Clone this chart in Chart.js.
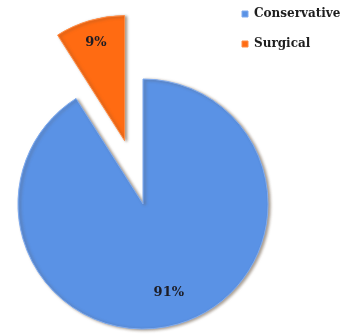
<!DOCTYPE html>
<html>
<head>
<meta charset="utf-8">
<script src="https://cdn.jsdelivr.net/npm/chart.js@4"></script>
<style>
  html, body { margin: 0; padding: 0; background: #fff; overflow: hidden; }
  body { width: 346px; height: 335px; position: relative; }
  #wrap { position: absolute; left: 0; top: -10px; width: 346px; height: 428px; }
</style>
</head>
<body>
<div id="wrap"><canvas id="pieChart"></canvas></div>
<script>
// Treatment split
const categories = ['Conservative', 'Surgical'];
const shares = [91, 9];
const sliceColors = ['#5A92E5', '#FF6B12'];
const edgeColors = ['#80ABEE', '#FF8C45'];
// how far each slice is pulled out of the pie, px
const explode = [0, 66];
// how far out along each slice the percentage label sits (fraction of radius)
const labelDepth = [0.74, 0.82];

// Pull slices out along their middle angle. The built-in `offset` also
// narrows and enlarges the slice, so the arc centre is moved instead.
const explodeSlices = {
  id: 'explodeSlices',
  afterDatasetUpdate(chart, args) {
    args.meta.data.forEach((arc, i) => {
      const d = explode[i] || 0;
      if (!d) return;
      const mid = (arc.startAngle + arc.endAngle) / 2;
      arc.x += Math.cos(mid) * d;
      arc.y += Math.sin(mid) * d;
    });
  },
};

// Soft drop shadow under the slices
const sliceShadow = {
  id: 'sliceShadow',
  beforeDatasetsDraw(chart) {
    const ctx = chart.ctx;
    ctx.save();
    ctx.shadowColor = 'rgba(95, 75, 55, 0.55)';
    ctx.shadowBlur = 3;
    ctx.shadowOffsetX = 2;
    ctx.shadowOffsetY = 1;
  },
  afterDatasetsDraw(chart) {
    chart.ctx.restore();
  },
};

// Percentage text inside each slice
const sliceLabels = {
  id: 'sliceLabels',
  afterDatasetsDraw(chart) {
    const ctx = chart.ctx;
    const meta = chart.getDatasetMeta(0);
    const total = shares.reduce((a, b) => a + b, 0);
    ctx.save();
    ctx.font = 'bold 13px "DejaVu Serif"';
    ctx.fillStyle = '#1c1c24';
    ctx.textAlign = 'center';
    ctx.textBaseline = 'middle';
    meta.data.forEach((arc, i) => {
      const { x, y, startAngle, endAngle, outerRadius } =
        arc.getProps(['x', 'y', 'startAngle', 'endAngle', 'outerRadius'], true);
      const mid = (startAngle + endAngle) / 2;
      const d = outerRadius * labelDepth[i];
      const pct = Math.round((shares[i] / total) * 100) + '%';
      ctx.fillText(pct, x + Math.cos(mid) * d, y + Math.sin(mid) * d);
    });
    ctx.restore();
  },
};

const ctx = document.getElementById('pieChart').getContext('2d');
new Chart(ctx, {
  type: 'pie',
  data: {
    labels: categories,
    datasets: [
      {
        data: shares,
        backgroundColor: sliceColors,
        borderColor: edgeColors,
        borderWidth: 1,
        radius: 125,
      },
    ],
  },
  options: {
    responsive: true,
    maintainAspectRatio: false,
    animation: false,
    events: [],
    layout: { padding: { left: 62, right: 0, top: 0, bottom: 0 } },
    plugins: {
      tooltip: { enabled: false },
      legend: {
        position: 'right',
        align: 'start',
        maxWidth: 122,
        labels: {
          boxWidth: 6,
          boxHeight: 6,
          padding: 18,
          color: '#1e1e1e',
          font: { family: '"DejaVu Serif"', size: 12, weight: 'bold' },
        },
      },
    },
  },
  plugins: [explodeSlices, sliceShadow, sliceLabels],
});
</script>
</body>
</html>
